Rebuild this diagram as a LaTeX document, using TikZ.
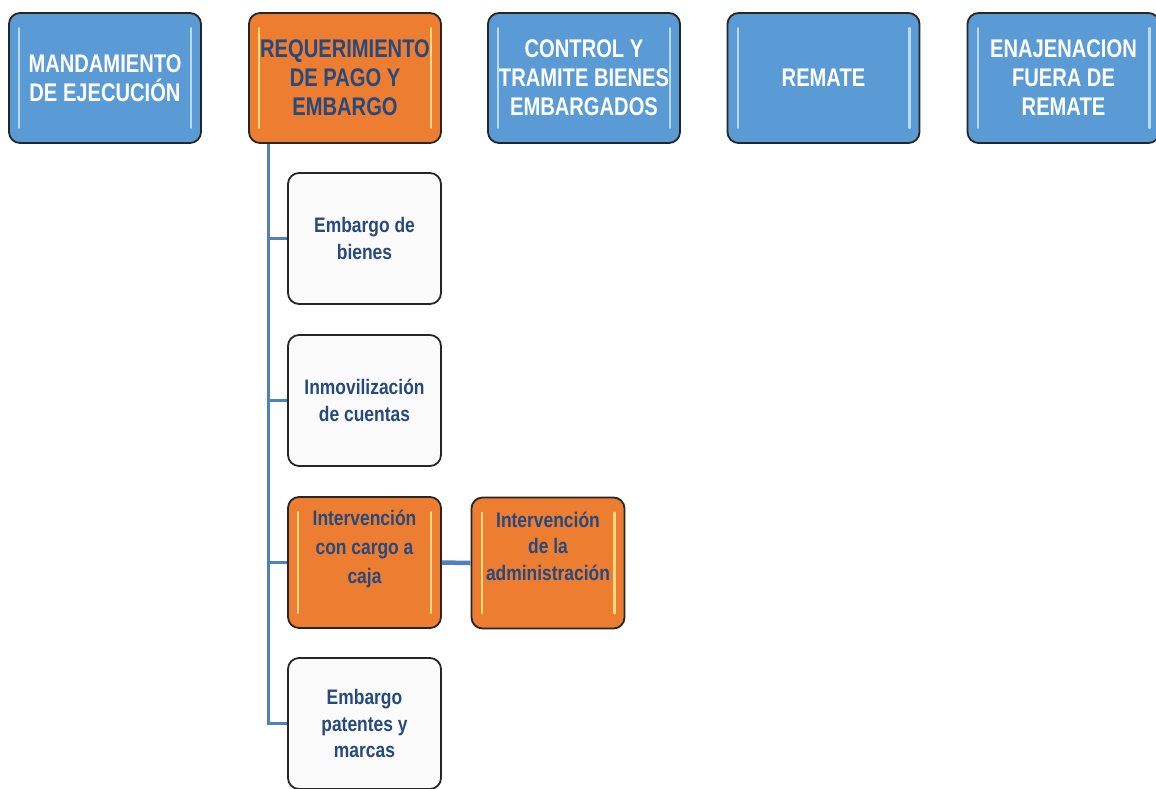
\documentclass[tikz,border=0pt]{standalone}
\usepackage{fontspec}
\setmainfont{Liberation Sans}[FakeStretch=0.83]
\newfontfamily\topfont{Liberation Sans}[FakeStretch=0.79]
\definecolor{bblue}{HTML}{5B9BD5}
\definecolor{borange}{HTML}{ED7D31}
\definecolor{tblue}{HTML}{26497E}
\definecolor{lnblue}{HTML}{4F81BD}
\definecolor{wfill}{HTML}{FBFBFB}
\tikzset{
  boxbase/.style={draw=black!85, line width=1.8pt, rounded corners=11pt, align=center, inner sep=0pt},
  topbox/.style={boxbase, minimum width=192pt, minimum height=130pt, font=\topfont\bfseries\fontsize{25.5}{29}\selectfont},
  bluebox/.style={topbox, fill=bblue, text=white},
  orangetop/.style={topbox, fill=borange, text=tblue},
  childbox/.style={boxbase, minimum width=153pt, minimum height=131pt, font=\bfseries\fontsize{21}{26.5}\selectfont, text=tblue},
  whitebox/.style={childbox, fill=wfill},
  orangebox/.style={childbox, fill=borange},
  childtxt/.style={align=center, font=\bfseries\fontsize{21}{29}\selectfont, text=tblue, inner sep=0pt},
  conn/.style={draw=lnblue, line width=2.8pt},
  gloss/.style={line width=2.2pt, line cap=round, opacity=0.75}
}
\newcommand\glossbox[3]{%
  \draw[gloss, draw=#2] ([xshift=11pt,yshift=-#3]#1.north west) -- ([xshift=11pt,yshift=#3]#1.south west);
  \draw[gloss, draw=#2] ([xshift=-11pt,yshift=-#3]#1.north east) -- ([xshift=-11pt,yshift=#3]#1.south east);
}
\begin{document}
\begin{tikzpicture}[x=1pt, y=-1pt]
\useasboundingbox (0,0) rectangle (1156,788);
% top row
\node[bluebox] (mand) at (105,78) {MANDAMIENTO\\DE EJECUCIÓN};
\node[orangetop] (req) at (345,78) {REQUERIMIENTO\\DE PAGO Y\\EMBARGO};
\node[bluebox] (ctrl) at (584,78) {CONTROL Y\\TRAMITE BIENES\\EMBARGADOS};
\node[bluebox] (rem) at (823.5,78) {REMATE};
\node[bluebox] (ena) at (1063.5,78) {ENAJENACION\\FUERA DE\\REMATE};
\glossbox{mand}{cyan!15!white}{16pt}
\glossbox{req}{yellow!40!white}{16pt}
\glossbox{ctrl}{cyan!15!white}{16pt}
\glossbox{rem}{cyan!15!white}{16pt}
\glossbox{ena}{cyan!15!white}{16pt}
% children
\node[whitebox] (c1) at (364.5,238.5) {Embargo de\\bienes};
\node[whitebox] (c2) at (364.5,400.5) {Inmovilización\\de cuentas};
\node[orangebox] (c3) at (364.5,562.5) {};
\node[orangebox] (c5) at (548,563) {};
\node[whitebox] (c4) at (364.5,723.5) {Embargo\\patentes y\\marcas};
\glossbox{c3}{yellow!40!white}{16pt}
\glossbox{c5}{yellow!40!white}{16pt}
\node[childtxt] (t3) at ([yshift=14pt]c3.center) {Intervención\\con cargo a\\caja};
\node[childtxt, font=\bfseries\fontsize{21}{26.5}\selectfont] (t5) at ([yshift=17pt]c5.center) {Intervención\\de la\\administración};
% connectors
\coordinate (trunk) at ([xshift=20pt]req.south west);
\draw[conn] (trunk) |- (c4.west);
\draw[conn] (trunk |- c1.west) -- (c1.west);
\draw[conn] (trunk |- c2.west) -- (c2.west);
\draw[conn] (trunk |- c3.west) -- (c3.west);
\draw[conn, line width=4.5pt] (c3.east) -- (c5.west);
\end{tikzpicture}
\end{document}
